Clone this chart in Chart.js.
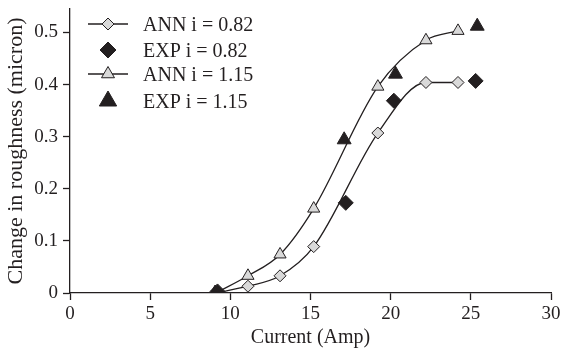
<!DOCTYPE html>
<html lang="en">
  <head>
    <meta charset="UTF-8" />
    <title>Change in roughness vs current</title>
    <script src="https://cdn.jsdelivr.net/npm/chart.js@4.4.1/dist/chart.umd.min.js"></script>
    <style>
      html, body { margin: 0; padding: 0; background: #fff; }
      #wrap { width: 565px; height: 351px; }
    </style>
  </head>
  <body>
    <div id="wrap"><canvas id="myChart"></canvas></div>
    <script>
      // values
      const annCurrent = [9.1, 11.1, 13.1, 15.2, 19.2, 22.2, 24.2]
      const ann082 = [0.0, 0.013, 0.033, 0.089, 0.307, 0.404, 0.404]
      const ann115 = [0.0, 0.033, 0.074, 0.162, 0.396, 0.485, 0.503]
      const exp082Current = [9.2, 17.2, 20.2, 25.3]
      const exp082 = [0.003, 0.173, 0.369, 0.407]
      const exp115Current = [9.05, 17.1, 20.3, 25.4]
      const exp115 = [0.0, 0.294, 0.420, 0.512]
      const xTicks = [0, 5, 10, 15, 20, 25, 30]
      const yTicks = [0, 0.1, 0.2, 0.3, 0.4, 0.5]

      const ink = "#231f20"
      const grey = "#d9d9d9"
      const serif = "'Liberation Serif', 'Times New Roman', serif"

      function pts(xs, ys) {
        return xs.map((x, i) => ({ x: x, y: ys[i] }))
      }

      // legend drawn inside the plot, line + marker like the original
      const insideLegend = {
        id: "insideLegend",
        afterDraw(chart) {
          const ctx = chart.ctx
          const a = chart.chartArea
          const rows = [
            { ds: 0, y: 15, line: true, r: 6 },
            { ds: 1, y: 41, line: false, r: 8 },
            { ds: 2, y: 65, line: true, r: 7.5 },
            { ds: 3, y: 92, line: false, r: 10 },
          ]
          ctx.save()
          rows.forEach((row) => {
            const d = chart.data.datasets[row.ds]
            const cy = a.top + row.y
            const mx = a.left + 38
            if (row.line) {
              ctx.strokeStyle = ink
              ctx.lineWidth = 1.3
              ctx.beginPath()
              ctx.moveTo(a.left + 18, cy)
              ctx.lineTo(a.left + 58, cy)
              ctx.stroke()
            }
            ctx.fillStyle = d.pointBackgroundColor
            ctx.strokeStyle = ink
            ctx.lineWidth = 1
            Chart.helpers.drawPoint(ctx, { pointStyle: d.pointStyle, radius: row.r, rotation: 0, borderWidth: 1 }, mx, cy)
            ctx.fillStyle = ink
            ctx.font = "20px " + serif
            ctx.textBaseline = "alphabetic"
            ctx.fillText(d.label, a.left + 73, cy + 7)
          })
          ctx.restore()
        },
      }

      const ctx = document.getElementById("myChart").getContext("2d")
      const myChart = new Chart(ctx, {
        type: "line",
        data: {
          datasets: [
            {
              label: "ANN i = 0.82",
              data: pts(annCurrent, ann082),
              borderColor: ink,
              borderWidth: 1.3,
              cubicInterpolationMode: "monotone",
              pointStyle: "rectRot",
              pointRadius: 6,
              pointBackgroundColor: grey,
              pointBorderColor: ink,
              pointBorderWidth: 1,
              order: 4,
            },
            {
              label: "EXP i = 0.82",
              data: pts(exp082Current, exp082),
              showLine: false,
              pointStyle: "rectRot",
              pointRadius: 7.5,
              pointBackgroundColor: ink,
              pointBorderColor: ink,
              pointBorderWidth: 1,
              order: 1,
            },
            {
              label: "ANN i = 1.15",
              data: pts(annCurrent, ann115),
              borderColor: ink,
              borderWidth: 1.3,
              cubicInterpolationMode: "monotone",
              pointStyle: "triangle",
              pointRadius: 7,
              pointBackgroundColor: grey,
              pointBorderColor: ink,
              pointBorderWidth: 1,
              order: 3,
            },
            {
              label: "EXP i = 1.15",
              data: pts(exp115Current, exp115),
              showLine: false,
              pointStyle: "triangle",
              pointRadius: 8,
              pointBackgroundColor: ink,
              pointBorderColor: ink,
              pointBorderWidth: 1,
              order: 2,
            },
          ],
        },
        options: {
          responsive: true,
          maintainAspectRatio: false,
          animation: false,
          layout: { padding: { top: 8, right: 14, left: 0, bottom: 0 } },
          plugins: {
            legend: { display: false },
            tooltip: { enabled: false },
          },
          scales: {
            x: {
              type: "linear",
              min: 0,
              max: 30,
              afterBuildTicks: (s) => { s.ticks = xTicks.map((v) => ({ value: v })) },
              afterFit: (s) => { s.height = 58; s.paddingLeft = 0; s.paddingRight = 0 },
              border: { display: true, color: ink, width: 1.3 },
              grid: { drawOnChartArea: false, drawTicks: true, tickLength: 7, tickColor: ink, tickWidth: 1.3 },
              ticks: { color: ink, font: { family: serif, size: 19 }, padding: 3, maxRotation: 0 },
              title: {
                display: true,
                text: "Current (Amp)",
                color: ink,
                font: { family: serif, size: 20, lineHeight: 1 },
                padding: { top: 0, bottom: 3 },
              },
            },
            y: {
              type: "linear",
              min: 0,
              max: 0.545,
              afterBuildTicks: (s) => { s.ticks = yTicks.map((v) => ({ value: v })) },
              afterFit: (s) => { s.width = 70; s.paddingTop = 0; s.paddingBottom = 0 },
              border: { display: true, color: ink, width: 1.3 },
              grid: { drawOnChartArea: false, drawTicks: true, tickLength: 7, tickColor: ink, tickWidth: 1.3 },
              ticks: { color: ink, font: { family: serif, size: 19 }, padding: 5 },
              title: {
                display: true,
                text: "Change in roughness (micron)",
                color: ink,
                font: { family: serif, size: 22, lineHeight: 1 },
                padding: { top: 5, bottom: 0 },
              },
            },
          },
        },
        plugins: [insideLegend],
      })
    </script>
  </body>
</html>
